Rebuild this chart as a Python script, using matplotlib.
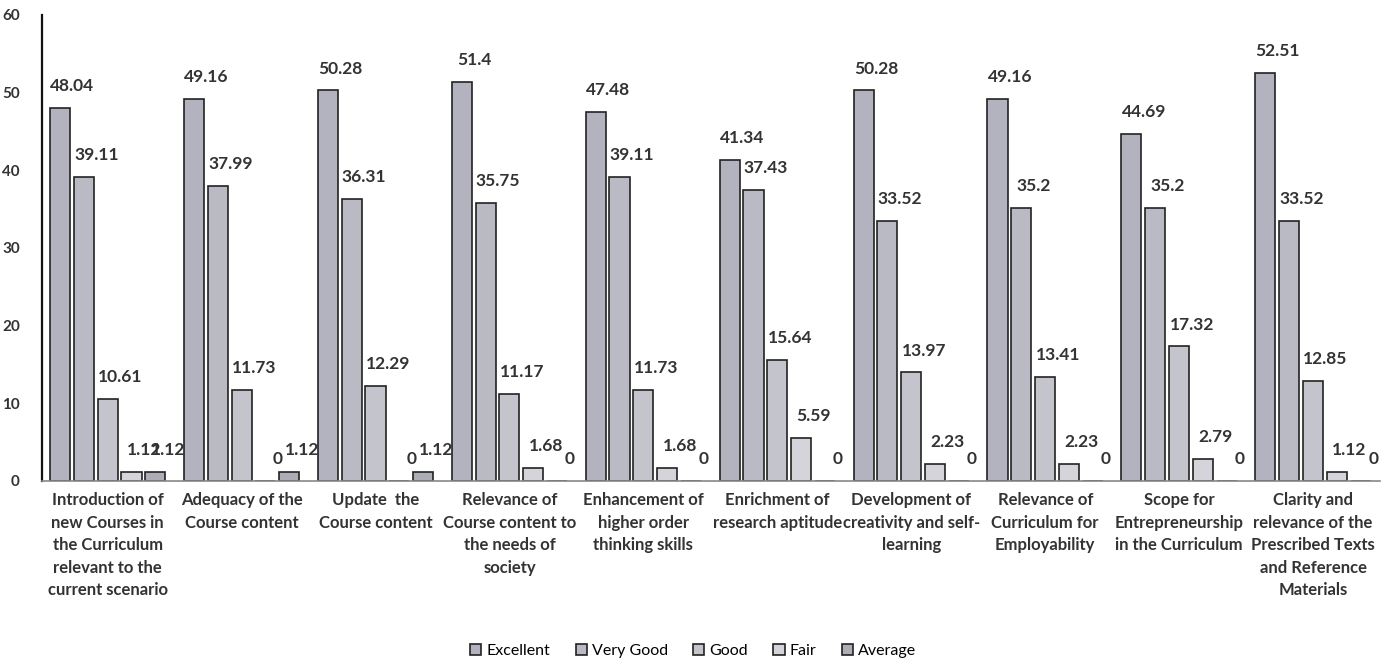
import matplotlib

matplotlib.use("Agg")
import matplotlib.pyplot as plt
import numpy as np

plt.rcParams["font.family"] = ["Lato", "DejaVu Sans"]

categories = [
    "Introduction of\nnew Courses in\nthe Curriculum\nrelevant to the\ncurrent scenario",
    "Adequacy of the\nCourse content",
    "Update  the\nCourse content",
    "Relevance of\nCourse content to\nthe needs of\nsociety",
    "Enhancement of\nhigher order\nthinking skills",
    "Enrichment of\nresearch aptitude",
    "Development of\ncreativity and self-\nlearning",
    "Relevance of\nCurriculum for\nEmployability",
    "Scope for\nEntrepreneurship\nin the Curriculum",
    "Clarity and\nrelevance of the\nPrescribed Texts\nand Reference\nMaterials",
]
series_names = ["Excellent", "Very Good", "Good", "Fair", "Average"]
excellent = [48.04, 49.16, 50.28, 51.4, 47.48, 41.34, 50.28, 49.16, 44.69, 52.51]
very_good = [39.11, 37.99, 36.31, 35.75, 39.11, 37.43, 33.52, 35.2, 35.2, 33.52]
good = [10.61, 11.73, 12.29, 11.17, 11.73, 15.64, 13.97, 13.41, 17.32, 12.85]
fair = [1.12, 0, 0, 1.68, 1.68, 5.59, 2.23, 2.23, 2.79, 1.12]
average = [1.12, 1.12, 1.12, 0, 0, 0, 0, 0, 0, 0]
series = [excellent, very_good, good, fair, average]
colors = ["#b3b3bf", "#babac4", "#c4c4cc", "#d4d4da", "#adadb6"]

fig = plt.figure(figsize=(13.86, 6.66), dpi=100)
ax = fig.add_axes([0.0303, 0.2778, 0.9654, 0.6997])

x = np.arange(len(categories))
w = 0.15
step = 0.178
for j, (name, vals, c) in enumerate(zip(series_names, series, colors)):
    pos = x + (j - 2) * step
    ax.bar(pos, vals, w, color=c, edgecolor="#222222", linewidth=1.2, label=name)
    for px, v in zip(pos, vals):
        ax.annotate(f"{v:g}", (px, v), xytext=(9, 10), textcoords="offset points",
                    ha="center", va="bottom", fontsize=12.5, fontweight="bold",
                    color="#333333")

ax.set_xlim(-0.49, 9.5)
ax.set_ylim(0, 60)
ax.set_yticks(range(0, 61, 10))
ax.tick_params(axis="y", length=0, pad=16, labelsize=11)
ax.tick_params(axis="x", length=0, pad=8)
for lbl in ax.get_yticklabels():
    lbl.set_fontweight("bold")
    lbl.set_color("#333333")
ax.set_xticks(x)
ax.set_xticklabels(categories, fontsize=12, fontweight="bold", color="#333333",
                   linespacing=1.5, va="top")
for s in ["top", "right"]:
    ax.spines[s].set_visible(False)
ax.spines["left"].set_color("#111111")
ax.spines["left"].set_linewidth(1.6)
ax.spines["bottom"].set_color("#888888")
ax.spines["bottom"].set_linewidth(1.2)

fig.legend(loc="lower center", bbox_to_anchor=(0.5, -0.01), ncol=5, frameon=False,
           fontsize=11.5, handlelength=0.7, handleheight=0.7, handletextpad=0.3,
           columnspacing=1.6)

fig.savefig("out.png", dpi=100)
